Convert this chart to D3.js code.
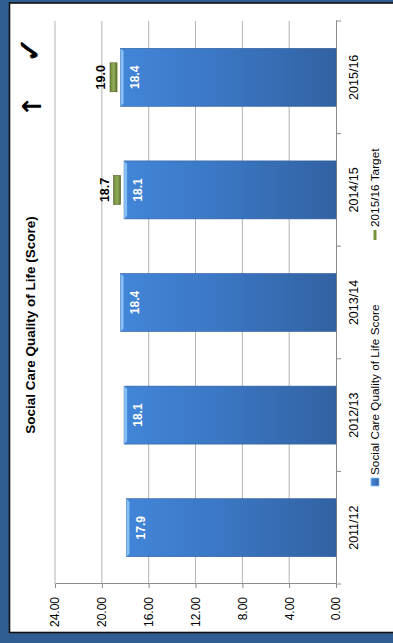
<!DOCTYPE html>
<html>
<head>
<meta charset="utf-8">
<script src="https://cdn.jsdelivr.net/npm/d3@7"></script>
<style>
  html, body { margin: 0; padding: 0; background: #2f5d91; }
  svg { display: block; }
  text { font-family: "Liberation Sans", Arial, sans-serif; }
</style>
</head>
<body>
<script>
// Social Care Quality of Life score by year, with the 2015/16 target
const years = ['2011/12', '2012/13', '2013/14', '2014/15', '2015/16'];
const scores = [17.9, 18.1, 18.4, 18.1, 18.4];
const targets = [null, null, null, 18.7, 19.0];
const valueTicks = [0, 4, 8, 12, 16, 20, 24];
const seriesNames = ['Social Care Quality of Life Score', '2015/16 Target'];
const title = 'Social Care Quality of Life (Score)';

const W = 393, H = 643;
const svg = d3.select('body').append('svg').attr('width', W).attr('height', H);

// page frame
svg.append('rect').attr('width', W).attr('height', H).attr('fill', '#2f5d91');
svg.append('rect')
  .attr('x', 9.5).attr('y', 3).attr('width', 400).attr('height', 629.5)
  .attr('fill', '#ffffff').attr('stroke', '#111').attr('stroke-width', 1.6);

const defs = svg.append('defs');
const barGrad = defs.append('linearGradient').attr('id', 'barGrad')
  .attr('x1', 0).attr('y1', 0).attr('x2', 0).attr('y2', 1);
barGrad.append('stop').attr('offset', '0%').attr('stop-color', '#4285d8');
barGrad.append('stop').attr('offset', '45%').attr('stop-color', '#3b77c4');
barGrad.append('stop').attr('offset', '100%').attr('stop-color', '#3262a2');

const tgtGrad = defs.append('linearGradient').attr('id', 'tgtGrad')
  .attr('x1', 0).attr('y1', 0).attr('x2', 0).attr('y2', 1);
tgtGrad.append('stop').attr('offset', '0%').attr('stop-color', '#6b8536');
tgtGrad.append('stop').attr('offset', '50%').attr('stop-color', '#93ad5c');
tgtGrad.append('stop').attr('offset', '100%').attr('stop-color', '#5f772e');

// the chart is laid out as an ordinary column chart, then turned a quarter turn
const g = svg.append('g').attr('transform', `translate(0,${H}) rotate(-90)`);

const x = d3.scaleBand().domain(years).range([59, 622])
  .paddingInner(0.485).paddingOuter(0.2425);
const y = d3.scaleLinear().domain([0, 24]).range([336, 55]);

// gridlines
g.append('g').selectAll('line').data(valueTicks.filter(d => d > 0)).join('line')
  .attr('x1', 59).attr('x2', 622)
  .attr('y1', d => y(d)).attr('y2', d => y(d))
  .attr('stroke', '#b4b4b4').attr('stroke-width', 1);

// value axis
const yAxis = g.append('g').attr('transform', 'translate(59,0)')
  .call(d3.axisLeft(y).tickValues(valueTicks).tickFormat(d3.format('.2f'))
    .tickSize(4).tickSizeOuter(0).tickPadding(9));
yAxis.select('.domain').attr('stroke', '#8c8c8c');
yAxis.selectAll('.tick line').attr('stroke', '#8c8c8c');
yAxis.selectAll('text').attr('font-size', 12).attr('fill', '#000');

// category axis
const xAxis = g.append('g').attr('transform', 'translate(0,336)')
  .call(d3.axisBottom(x).tickSize(0).tickSizeOuter(0).tickPadding(13));
xAxis.select('.domain').attr('stroke', '#8c8c8c');
xAxis.selectAll('text').attr('font-size', 12.5).attr('fill', '#000');
const bounds = years.map(d => x(d) - x.step() * x.paddingInner() / 2)
  .concat([x(years[years.length - 1]) + x.bandwidth() + x.step() * x.paddingInner() / 2]);
xAxis.selectAll('line.boundary').data(bounds).join('line').attr('class', 'boundary')
  .attr('x1', d => d).attr('x2', d => d).attr('y1', 0).attr('y2', 5)
  .attr('stroke', '#8c8c8c');

// score bars
const bars = g.append('g');
bars.selectAll('rect.bar').data(scores).join('rect').attr('class', 'bar')
  .attr('x', (d, i) => x(years[i])).attr('width', x.bandwidth())
  .attr('y', d => y(d)).attr('height', d => y(0) - y(d))
  .attr('fill', 'url(#barGrad)').attr('stroke', '#2e5c98').attr('stroke-width', 0.6);
// bevelled top edge
bars.selectAll('path.bevel').data(scores).join('path').attr('class', 'bevel')
  .attr('d', (d, i) => {
    const x0 = x(years[i]), x1 = x0 + x.bandwidth(), t = y(d), b = 3;
    return `M${x0},${t}L${x1},${t}L${x1 - b},${t + b}L${x0 + b},${t + b}Z`;
  })
  .attr('fill', '#86bff4');
bars.selectAll('text').data(scores).join('text')
  .attr('x', (d, i) => x(years[i]) + x.bandwidth() / 2)
  .attr('y', d => y(d) + 14).attr('dy', '0.35em')
  .attr('text-anchor', 'middle').attr('font-size', 12).attr('font-weight', 'bold')
  .attr('fill', '#fff').text(d => d.toFixed(1));

// target markers
const tgt = targets.map((v, i) => ({ v, year: years[i] })).filter(d => d.v != null);
const tg = g.append('g');
tg.selectAll('rect').data(tgt).join('rect')
  .attr('x', d => x(d.year) + x.bandwidth() / 4).attr('width', x.bandwidth() / 2)
  .attr('y', d => y(d.v) - 3.5).attr('height', 7)
  .attr('fill', 'url(#tgtGrad)').attr('stroke', '#4f6228').attr('stroke-width', 0.6);
tg.selectAll('text').data(tgt).join('text')
  .attr('x', d => x(d.year) + x.bandwidth() / 2)
  .attr('y', d => y(d.v) - 12.5).attr('dy', '0.35em')
  .attr('text-anchor', 'middle').attr('font-size', 12.5).attr('font-weight', 'bold')
  .attr('fill', '#000').text(d => d.v.toFixed(1));

// title
g.append('text').attr('x', 318).attr('y', 30).attr('dy', '0.35em')
  .attr('text-anchor', 'middle').attr('font-size', 13.5).attr('font-weight', 'bold')
  .text(title);

// direction arrow and tick
g.append('text').attr('x', 537).attr('y', 32).attr('dy', '0.35em')
  .attr('text-anchor', 'middle').attr('font-size', 26).attr('font-weight', 'bold')
  .style('font-family', '"DejaVu Sans", sans-serif').text('\u2191');
g.append('text').attr('x', 593).attr('y', 29).attr('dy', '0.35em')
  .attr('text-anchor', 'middle').attr('font-size', 30)
  .attr('stroke', '#000').attr('stroke-width', 0.9)
  .style('font-family', '"DejaVu Sans", sans-serif').text('\u2713');

// legend
const lg = g.append('g').attr('transform', 'translate(0,375)');
lg.append('rect').attr('x', 157).attr('y', -4).attr('width', 8).attr('height', 8)
  .attr('fill', 'url(#barGrad)').attr('stroke', '#86bff4').attr('stroke-width', 0.8);
lg.append('text').attr('x', 168).attr('dy', '0.35em').attr('font-size', 11.8)
  .text(seriesNames[0]);
lg.append('line').attr('x1', 403).attr('x2', 413).attr('y1', 0).attr('y2', 0)
  .attr('stroke', '#77933c').attr('stroke-width', 3);
lg.append('text').attr('x', 416).attr('dy', '0.35em').attr('font-size', 11.8)
  .text(seriesNames[1]);
</script>
</body>
</html>
